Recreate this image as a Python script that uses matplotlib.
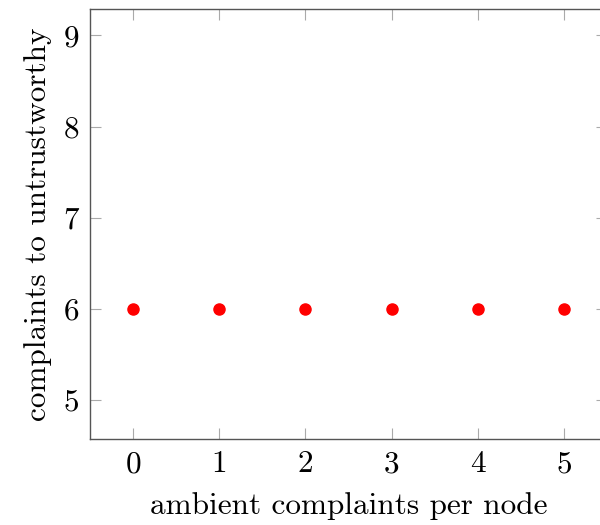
import matplotlib
matplotlib.use("Agg")
import matplotlib.pyplot as plt

ambient = [0, 1, 2, 3, 4, 5]
complaints = [6, 6, 6, 6, 6, 6]
xticks = [0, 1, 2, 3, 4, 5]
yticks = [5, 6, 7, 8, 9]

plt.rcParams['font.family'] = ['cmr10', 'DejaVu Serif']
plt.rcParams['axes.formatter.use_mathtext'] = True
plt.rcParams['mathtext.fontset'] = 'cm'

fs = 22.5
fig = plt.figure(figsize=(6, 5.25), dpi=100)
ax = fig.add_axes([0.15, 0.1638, 0.8617, 0.8191])
ax.plot(ambient, complaints, 'o', color='red', markersize=8, clip_on=False)
ax.set_xlim(-0.5, 5.5)
ax.set_ylim(4.57, 9.29)
ax.set_xticks(xticks)
ax.set_yticks(yticks)
ax.set_xticklabels([str(t) for t in xticks])
ax.set_yticklabels([str(t) for t in yticks])
ax.tick_params(direction='in', length=8, width=0.8, color='#aaaaaa',
               top=True, right=True, labelsize=fs, pad=8)
for s in ax.spines.values():
    s.set_linewidth(1.0)
    s.set_color('#555555')
ax.set_xlabel('ambient complaints per node', fontsize=fs, labelpad=10)
ax.set_ylabel('complaints to untrustworthy', fontsize=fs, labelpad=8)
fig.savefig('out.png', dpi=100)
